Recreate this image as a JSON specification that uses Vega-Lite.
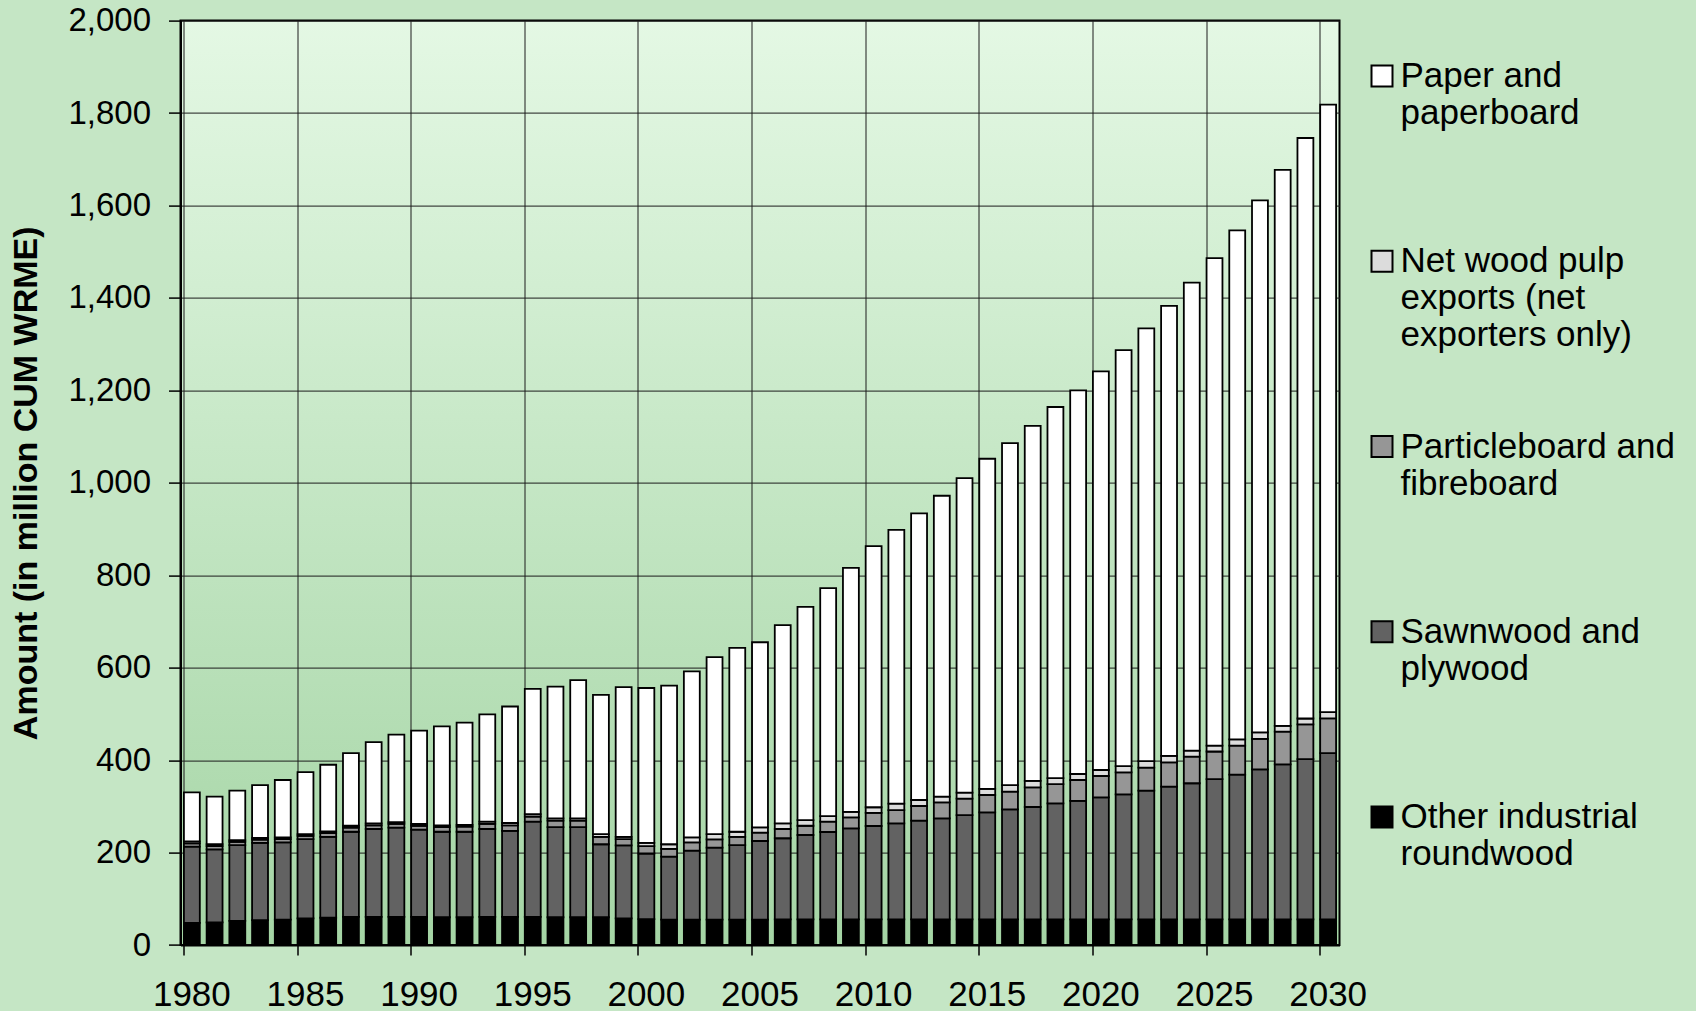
{
  "$schema": "https://vega.github.io/schema/vega-lite/v6.json",
  "width": 1159,
  "height": 924.4,
  "autosize": {"type": "none"},
  "padding": {"left": 180.5, "top": 20.6, "right": 356.5, "bottom": 66},
  "background": "#c5e6c5",
  "config": {
    "view": {
      "stroke": "#000000",
      "strokeWidth": 2,
      "fill": {"gradient": "linear", "x1": 0, "y1": 0, "x2": 0, "y2": 1,
        "stops": [{"offset": 0, "color": "#e4f8e4"}, {"offset": 1, "color": "#a5d5a5"}]}
    },
    "font": "Liberation Sans",
    "axis": {"labelFont": "Liberation Sans", "labelColor": "#000000", "domainColor": "#000000", "tickColor": "#000000", "gridColor": "#1c1c1c", "gridOpacity": 1, "gridWidth": 1, "titleColor": "#000000"}
  },
  "data": {"values": [
    {"year": 1980, "Other industrial roundwood": 48, "Sawnwood and plywood": 165, "Particleboard and fibreboard": 7, "Net wood pulp exports (net exporters only)": 4, "Paper and paperboard": 106},
    {"year": 1981, "Other industrial roundwood": 49, "Sawnwood and plywood": 158, "Particleboard and fibreboard": 7, "Net wood pulp exports (net exporters only)": 4, "Paper and paperboard": 103},
    {"year": 1982, "Other industrial roundwood": 52, "Sawnwood and plywood": 164, "Particleboard and fibreboard": 7, "Net wood pulp exports (net exporters only)": 4, "Paper and paperboard": 107},
    {"year": 1983, "Other industrial roundwood": 54, "Sawnwood and plywood": 167, "Particleboard and fibreboard": 7, "Net wood pulp exports (net exporters only)": 3.5, "Paper and paperboard": 114.5},
    {"year": 1984, "Other industrial roundwood": 55, "Sawnwood and plywood": 167, "Particleboard and fibreboard": 7, "Net wood pulp exports (net exporters only)": 4, "Paper and paperboard": 124},
    {"year": 1985, "Other industrial roundwood": 57.5, "Sawnwood and plywood": 171.5, "Particleboard and fibreboard": 7, "Net wood pulp exports (net exporters only)": 4, "Paper and paperboard": 134},
    {"year": 1986, "Other industrial roundwood": 59, "Sawnwood and plywood": 175, "Particleboard and fibreboard": 8, "Net wood pulp exports (net exporters only)": 4, "Paper and paperboard": 144},
    {"year": 1987, "Other industrial roundwood": 61, "Sawnwood and plywood": 184, "Particleboard and fibreboard": 9, "Net wood pulp exports (net exporters only)": 4, "Paper and paperboard": 157},
    {"year": 1988, "Other industrial roundwood": 61, "Sawnwood and plywood": 190, "Particleboard and fibreboard": 8, "Net wood pulp exports (net exporters only)": 4, "Paper and paperboard": 176},
    {"year": 1989, "Other industrial roundwood": 61, "Sawnwood and plywood": 193, "Particleboard and fibreboard": 8, "Net wood pulp exports (net exporters only)": 4, "Paper and paperboard": 189},
    {"year": 1990, "Other industrial roundwood": 61, "Sawnwood and plywood": 188.5, "Particleboard and fibreboard": 8.5, "Net wood pulp exports (net exporters only)": 4, "Paper and paperboard": 202},
    {"year": 1991, "Other industrial roundwood": 60, "Sawnwood and plywood": 185, "Particleboard and fibreboard": 10, "Net wood pulp exports (net exporters only)": 4, "Paper and paperboard": 214},
    {"year": 1992, "Other industrial roundwood": 60, "Sawnwood and plywood": 185, "Particleboard and fibreboard": 11, "Net wood pulp exports (net exporters only)": 4, "Paper and paperboard": 221},
    {"year": 1993, "Other industrial roundwood": 61, "Sawnwood and plywood": 190, "Particleboard and fibreboard": 11, "Net wood pulp exports (net exporters only)": 5, "Paper and paperboard": 232},
    {"year": 1994, "Other industrial roundwood": 61, "Sawnwood and plywood": 186, "Particleboard and fibreboard": 12, "Net wood pulp exports (net exporters only)": 5, "Paper and paperboard": 252},
    {"year": 1995, "Other industrial roundwood": 61, "Sawnwood and plywood": 206, "Particleboard and fibreboard": 11, "Net wood pulp exports (net exporters only)": 5, "Paper and paperboard": 271},
    {"year": 1996, "Other industrial roundwood": 60, "Sawnwood and plywood": 195, "Particleboard and fibreboard": 14, "Net wood pulp exports (net exporters only)": 5, "Paper and paperboard": 285},
    {"year": 1997, "Other industrial roundwood": 60, "Sawnwood and plywood": 195, "Particleboard and fibreboard": 14, "Net wood pulp exports (net exporters only)": 5, "Paper and paperboard": 299},
    {"year": 1998, "Other industrial roundwood": 60, "Sawnwood and plywood": 158, "Particleboard and fibreboard": 16, "Net wood pulp exports (net exporters only)": 6, "Paper and paperboard": 301},
    {"year": 1999, "Other industrial roundwood": 57.5, "Sawnwood and plywood": 158, "Particleboard and fibreboard": 13.5, "Net wood pulp exports (net exporters only)": 5, "Paper and paperboard": 324},
    {"year": 2000, "Other industrial roundwood": 56, "Sawnwood and plywood": 142, "Particleboard and fibreboard": 16, "Net wood pulp exports (net exporters only)": 7, "Paper and paperboard": 335},
    {"year": 2001, "Other industrial roundwood": 55, "Sawnwood and plywood": 136, "Particleboard and fibreboard": 17, "Net wood pulp exports (net exporters only)": 10, "Paper and paperboard": 343},
    {"year": 2002, "Other industrial roundwood": 55, "Sawnwood and plywood": 149, "Particleboard and fibreboard": 18, "Net wood pulp exports (net exporters only)": 11, "Paper and paperboard": 359},
    {"year": 2003, "Other industrial roundwood": 55, "Sawnwood and plywood": 155.6, "Particleboard and fibreboard": 18, "Net wood pulp exports (net exporters only)": 11.4, "Paper and paperboard": 383},
    {"year": 2004, "Other industrial roundwood": 55, "Sawnwood and plywood": 161, "Particleboard and fibreboard": 18, "Net wood pulp exports (net exporters only)": 11, "Paper and paperboard": 398},
    {"year": 2005, "Other industrial roundwood": 55, "Sawnwood and plywood": 170, "Particleboard and fibreboard": 18, "Net wood pulp exports (net exporters only)": 11.6, "Paper and paperboard": 400.4},
    {"year": 2006, "Other industrial roundwood": 55.6, "Sawnwood and plywood": 175.4, "Particleboard and fibreboard": 20, "Net wood pulp exports (net exporters only)": 12, "Paper and paperboard": 429},
    {"year": 2007, "Other industrial roundwood": 55.6, "Sawnwood and plywood": 182.4, "Particleboard and fibreboard": 20, "Net wood pulp exports (net exporters only)": 12, "Paper and paperboard": 461.6},
    {"year": 2008, "Other industrial roundwood": 55.6, "Sawnwood and plywood": 188.9, "Particleboard and fibreboard": 22.5, "Net wood pulp exports (net exporters only)": 12, "Paper and paperboard": 493},
    {"year": 2009, "Other industrial roundwood": 55.6, "Sawnwood and plywood": 196.9, "Particleboard and fibreboard": 23.5, "Net wood pulp exports (net exporters only)": 12, "Paper and paperboard": 528},
    {"year": 2010, "Other industrial roundwood": 55.6, "Sawnwood and plywood": 201.9, "Particleboard and fibreboard": 28.5, "Net wood pulp exports (net exporters only)": 12, "Paper and paperboard": 565},
    {"year": 2011, "Other industrial roundwood": 55.6, "Sawnwood and plywood": 207.4, "Particleboard and fibreboard": 29, "Net wood pulp exports (net exporters only)": 14, "Paper and paperboard": 592},
    {"year": 2012, "Other industrial roundwood": 55.6, "Sawnwood and plywood": 213.4, "Particleboard and fibreboard": 31.7, "Net wood pulp exports (net exporters only)": 13, "Paper and paperboard": 620.3},
    {"year": 2013, "Other industrial roundwood": 55.6, "Sawnwood and plywood": 218.4, "Particleboard and fibreboard": 34.6, "Net wood pulp exports (net exporters only)": 12.4, "Paper and paperboard": 651},
    {"year": 2014, "Other industrial roundwood": 55.6, "Sawnwood and plywood": 225.4, "Particleboard and fibreboard": 35.6, "Net wood pulp exports (net exporters only)": 13, "Paper and paperboard": 680.4},
    {"year": 2015, "Other industrial roundwood": 55.6, "Sawnwood and plywood": 231.4, "Particleboard and fibreboard": 37.5, "Net wood pulp exports (net exporters only)": 13.5, "Paper and paperboard": 714},
    {"year": 2016, "Other industrial roundwood": 55.6, "Sawnwood and plywood": 237.9, "Particleboard and fibreboard": 38.2, "Net wood pulp exports (net exporters only)": 14.3, "Paper and paperboard": 740},
    {"year": 2017, "Other industrial roundwood": 55.6, "Sawnwood and plywood": 243, "Particleboard and fibreboard": 42.4, "Net wood pulp exports (net exporters only)": 14, "Paper and paperboard": 768},
    {"year": 2018, "Other industrial roundwood": 55.6, "Sawnwood and plywood": 250.9, "Particleboard and fibreboard": 41.5, "Net wood pulp exports (net exporters only)": 13, "Paper and paperboard": 803},
    {"year": 2019, "Other industrial roundwood": 55.6, "Sawnwood and plywood": 256.4, "Particleboard and fibreboard": 45, "Net wood pulp exports (net exporters only)": 13, "Paper and paperboard": 830},
    {"year": 2020, "Other industrial roundwood": 55.6, "Sawnwood and plywood": 263.8, "Particleboard and fibreboard": 46.2, "Net wood pulp exports (net exporters only)": 13, "Paper and paperboard": 862.4},
    {"year": 2021, "Other industrial roundwood": 55.6, "Sawnwood and plywood": 270.4, "Particleboard and fibreboard": 47.5, "Net wood pulp exports (net exporters only)": 13.5, "Paper and paperboard": 900},
    {"year": 2022, "Other industrial roundwood": 55.6, "Sawnwood and plywood": 278.4, "Particleboard and fibreboard": 49.6, "Net wood pulp exports (net exporters only)": 14.4, "Paper and paperboard": 936},
    {"year": 2023, "Other industrial roundwood": 55.6, "Sawnwood and plywood": 286.9, "Particleboard and fibreboard": 52.5, "Net wood pulp exports (net exporters only)": 14, "Paper and paperboard": 974},
    {"year": 2024, "Other industrial roundwood": 55.6, "Sawnwood and plywood": 294.4, "Particleboard and fibreboard": 57.5, "Net wood pulp exports (net exporters only)": 13, "Paper and paperboard": 1012.5},
    {"year": 2025, "Other industrial roundwood": 55.6, "Sawnwood and plywood": 303.4, "Particleboard and fibreboard": 59.6, "Net wood pulp exports (net exporters only)": 12.9, "Paper and paperboard": 1054.5},
    {"year": 2026, "Other industrial roundwood": 55.6, "Sawnwood and plywood": 312.9, "Particleboard and fibreboard": 63, "Net wood pulp exports (net exporters only)": 13.5, "Paper and paperboard": 1101},
    {"year": 2027, "Other industrial roundwood": 55.6, "Sawnwood and plywood": 324.4, "Particleboard and fibreboard": 66, "Net wood pulp exports (net exporters only)": 14, "Paper and paperboard": 1151},
    {"year": 2028, "Other industrial roundwood": 55.6, "Sawnwood and plywood": 335.4, "Particleboard and fibreboard": 70.6, "Net wood pulp exports (net exporters only)": 12.4, "Paper and paperboard": 1203},
    {"year": 2029, "Other industrial roundwood": 55.6, "Sawnwood and plywood": 346.4, "Particleboard and fibreboard": 75.5, "Net wood pulp exports (net exporters only)": 12.5, "Paper and paperboard": 1256},
    {"year": 2030, "Other industrial roundwood": 55.6, "Sawnwood and plywood": 359.4, "Particleboard and fibreboard": 75.5, "Net wood pulp exports (net exporters only)": 13.5, "Paper and paperboard": 1314}
  ]},
  "transform": [
    {"fold": ["Other industrial roundwood", "Sawnwood and plywood", "Particleboard and fibreboard", "Net wood pulp exports (net exporters only)", "Paper and paperboard"], "as": ["product", "amount"]},
    {"calculate": "indexof(['Other industrial roundwood', 'Sawnwood and plywood', 'Particleboard and fibreboard', 'Net wood pulp exports (net exporters only)', 'Paper and paperboard'], datum.product)", "as": "stackOrder"}
  ],
  "mark": {"type": "bar", "stroke": "#000000", "strokeWidth": 1.8},
  "encoding": {
    "x": {
      "field": "year", "type": "ordinal",
      "scale": {"paddingInner": 0.3, "paddingOuter": 0.15},
      "axis": {
        "title": null,
        "values": [1980, 1985, 1990, 1995, 2000, 2005, 2010, 2015, 2020, 2025, 2030],
        "bandPosition": 0,
        "labelAngle": 0,
        "labelFontSize": 35,
        "labelOverlap": false,
        "tickSize": 10,
        "tickWidth": 1.5,
        "labelPadding": 22,
        "grid": true,
        "domainWidth": 2
      }
    },
    "y": {
      "field": "amount", "type": "quantitative", "stack": "zero",
      "scale": {"domain": [0, 2000], "nice": false},
      "axis": {
        "title": "Amount (in million CUM WRME)",
        "values": [0, 200, 400, 600, 800, 1000, 1200, 1400, 1600, 1800, 2000],
        "format": ",d",
        "labelFontSize": 33,
        "tickSize": 12,
        "tickWidth": 1.5,
        "labelPadding": 18,
        "titleFont": "Liberation Sans",
        "titleFontSize": 34,
        "titleFontWeight": "bold",
        "titlePadding": 24,
        "domainWidth": 2,
        "grid": true
      }
    },
    "color": {
      "field": "product", "type": "nominal",
      "scale": {
        "domain": ["Paper and paperboard", "Net wood pulp exports (net exporters only)", "Particleboard and fibreboard", "Sawnwood and plywood", "Other industrial roundwood"],
        "range": ["#ffffff", "#dcdcdc", "#969696", "#626262", "#000000"]
      },
      "legend": {
        "title": null,
        "orient": "none",
        "legendX": 1184,
        "legendY": 37.8,
        "padding": 0,
        "symbolType": "square",
        "symbolSize": 441,
        "symbolStrokeColor": "#000000",
        "symbolStrokeWidth": 2,
        "symbolOpacity": 1,
        "labelFont": "Liberation Sans",
        "labelFontSize": 35,
        "labelColor": "#000000",
        "labelLimit": 400,
        "labelOffset": 1,
        "labelBaseline": "middle",
        "rowPadding": 75.3,
        "gridAlign": "all",
        "labelExpr": "datum.label == 'Paper and paperboard' ? ['Paper and', 'paperboard'] : datum.label == 'Net wood pulp exports (net exporters only)' ? ['Net wood pulp', 'exports (net', 'exporters only)'] : datum.label == 'Particleboard and fibreboard' ? ['Particleboard and', 'fibreboard'] : datum.label == 'Sawnwood and plywood' ? ['Sawnwood and', 'plywood'] : ['Other industrial', 'roundwood']"
      }
    },
    "order": {"field": "stackOrder", "type": "quantitative"}
  }
}
